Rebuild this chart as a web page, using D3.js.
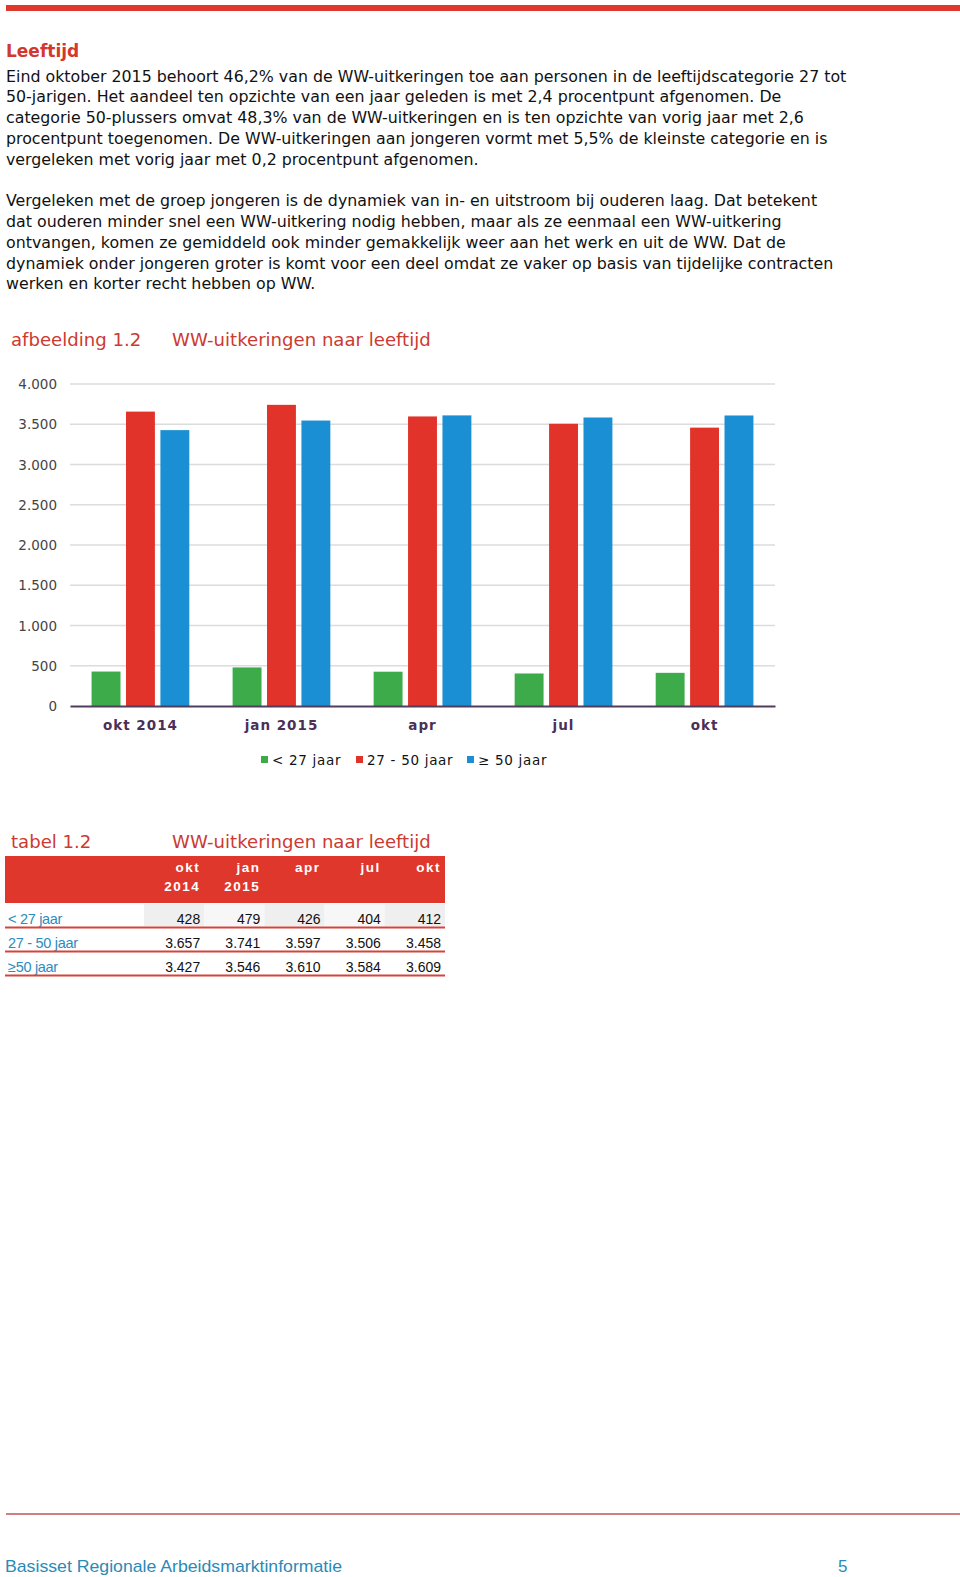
<!DOCTYPE html>
<html><head><meta charset="utf-8">
<script src="https://cdnjs.cloudflare.com/ajax/libs/d3/7.8.5/d3.min.js"></script>
<style>
html,body{margin:0;padding:0;background:#fff;}
svg{display:block;}
</style></head>
<body>
<script>
// ---- data ----
const categories = ["okt 2014", "jan 2015", "apr", "jul", "okt"];
const tableHeads = [["okt","2014"],["jan","2015"],["apr",""],["jul",""],["okt",""]];
const seriesNames = ["< 27 jaar", "27 - 50 jaar", "\u2265 50 jaar"];
const tableRowNames = ["< 27 jaar", "27 - 50 jaar", "\u226550 jaar"];
const under27 = [428, 479, 426, 404, 412];
const from27to50 = [3657, 3741, 3597, 3506, 3458];
const over50 = [3427, 3546, 3610, 3584, 3609];
const yTicks = [0, 500, 1000, 1500, 2000, 2500, 3000, 3500, 4000];
const seriesColors = ["#3dab4a", "#e2332a", "#1b8fd3"];

const para1 = [
 "Eind oktober 2015 behoort 46,2% van de WW-uitkeringen toe aan personen in de leeftijdscategorie 27 tot",
 "50-jarigen. Het aandeel ten opzichte van een jaar geleden is met 2,4 procentpunt afgenomen. De",
 "categorie 50-plussers omvat 48,3% van de WW-uitkeringen en is ten opzichte van vorig jaar met 2,6",
 "procentpunt toegenomen. De WW-uitkeringen aan jongeren vormt met 5,5% de kleinste categorie en is",
 "vergeleken met vorig jaar met 0,2 procentpunt afgenomen."
];
const para2 = [
 "Vergeleken met de groep jongeren is de dynamiek van in- en uitstroom bij ouderen laag. Dat betekent",
 "dat ouderen minder snel een WW-uitkering nodig hebben, maar als ze eenmaal een WW-uitkering",
 "ontvangen, komen ze gemiddeld ook minder gemakkelijk weer aan het werk en uit de WW. Dat de",
 "dynamiek onder jongeren groter is komt voor een deel omdat ze vaker op basis van tijdelijke contracten",
 "werken en korter recht hebben op WW."
];

const series = [under27, from27to50, over50];
const fmt = d3.formatLocale({decimal: ",", thousands: ".", grouping: [3], currency: ["", ""]}).format(",d");

const W = 960, H = 1577;
const svg = d3.select("body").append("svg").attr("width", W).attr("height", H);

// top red bar
svg.append("rect").attr("x", 6).attr("y", 5).attr("width", W - 6).attr("height", 6).attr("fill", "#e0372d");

// heading
svg.append("text").attr("x", 6).attr("y", 57).text("Leeftijd")
  .attr("font-family", "DejaVu Sans, Verdana, sans-serif").attr("font-weight", "bold")
  .attr("font-size", 17).attr("fill", "#d2382f");

// body text, fit font size to first line width
const bodyFont = "DejaVu Sans, Verdana, sans-serif";
const probe = svg.append("text").attr("font-family", bodyFont).attr("font-size", 100).text(para1[0]);
const pw = probe.node().getComputedTextLength();
probe.remove();
const bodySize = 100 * 841 / pw;

function paragraph(lines, y0) {
  lines.forEach((l, i) => {
    svg.append("text").attr("x", 6).attr("y", y0 + i * 20.85).text(l)
      .attr("font-family", bodyFont).attr("font-size", bodySize).attr("fill", "#111");
  });
}
paragraph(para1, 81.5);
paragraph(para2, 206);

// chart title
const titleFont = "DejaVu Sans, Verdana, sans-serif";
const titleSize = 18.1;
svg.append("text").attr("x", 11).attr("y", 346).text("afbeelding 1.2")
  .attr("font-family", titleFont).attr("font-size", titleSize).attr("fill", "#cc3a31");
svg.append("text").attr("x", 172).attr("y", 346).text("WW-uitkeringen naar leeftijd")
  .attr("font-family", titleFont).attr("font-size", titleSize).attr("fill", "#cc3a31");

// chart
const plotL = 70, plotR = 775, plotT = 384, plotB = 706;
const y = d3.scaleLinear().domain([0, 4000]).range([plotB, plotT]);
const x0 = d3.scaleBand().domain(categories).range([plotL, plotR]).paddingInner(0.307).paddingOuter(0.153);
const x1 = d3.scaleBand().domain(seriesNames).range([0, x0.bandwidth()]).paddingInner(0.16);

const g = svg.append("g");
// gridlines
g.selectAll("line.grid").data(yTicks.filter(t => t > 0)).enter().append("line")
  .attr("x1", plotL).attr("x2", plotR).attr("y1", d => y(d)).attr("y2", d => y(d))
  .attr("stroke", "#dcdcdc").attr("stroke-width", 1.5);

// y axis labels
const yAxis = d3.axisLeft(y).tickValues(yTicks).tickFormat(fmt).tickSize(0).tickPadding(0);
const ya = g.append("g").attr("transform", `translate(57,0)`).call(yAxis);
ya.select(".domain").remove();
ya.selectAll("text").attr("font-family", "DejaVu Sans, Verdana, sans-serif").attr("font-size", 13.5).attr("fill", "#444").attr("dy", "0.35em");

// bars
categories.forEach((c, ci) => {
  series.forEach((s, si) => {
    g.append("rect")
      .attr("x", x0(c) + x1(seriesNames[si]))
      .attr("y", y(s[ci]))
      .attr("width", x1.bandwidth())
      .attr("height", y(0) - y(s[ci]))
      .attr("fill", seriesColors[si]);
  });
});

// x axis
const xAxis = d3.axisBottom(x0).tickSize(0).tickPadding(0);
const xa = g.append("g").attr("transform", `translate(0,${plotB})`).call(xAxis);
xa.select(".domain").attr("stroke", "#4e3d5c").attr("stroke-width", 2);
xa.selectAll("text").attr("font-family", "DejaVu Sans, Verdana, sans-serif").attr("font-weight", "bold")
  .attr("font-size", 13.5).attr("fill", "#4b2f57").attr("letter-spacing", 1).attr("dy", 0).attr("y", 24);

// legend
const legendX = [261, 356, 467];
seriesNames.forEach((n, i) => {
  svg.append("rect").attr("x", legendX[i]).attr("y", 756).attr("width", 7).attr("height", 7).attr("fill", seriesColors[i]);
  svg.append("text").attr("x", legendX[i] + 11).attr("y", 765).text(n)
    .attr("font-family", "DejaVu Sans, Verdana, sans-serif").attr("font-size", 13.5)
    .attr("letter-spacing", 0.7).attr("fill", "#111");
});

// table
svg.append("text").attr("x", 11).attr("y", 848).text("tabel 1.2")
  .attr("font-family", titleFont).attr("font-size", titleSize).attr("fill", "#cc3a31");
svg.append("text").attr("x", 172).attr("y", 848).text("WW-uitkeringen naar leeftijd")
  .attr("font-family", titleFont).attr("font-size", titleSize).attr("fill", "#cc3a31");

const tblL = 5, tblR = 445, colStart = 144, colW = 60.2;
svg.append("rect").attr("x", tblL).attr("y", 856).attr("width", tblR - tblL).attr("height", 47).attr("fill", "#e0372d");
const tf = "Liberation Sans, Arial, sans-serif";
tableHeads.forEach((h, i) => {
  const xr = colStart + (i + 1) * colW - 4;
  h.forEach((t, j) => {
    if (!t) return;
    svg.append("text").attr("x", xr).attr("y", 872 + j * 19).attr("text-anchor", "end").text(t)
      .attr("font-family", tf).attr("font-weight", "bold").attr("font-size", 13.5)
      .attr("letter-spacing", 1.5).attr("fill", "#fff");
  });
});
const rowY = [919, 943, 967];
// light shading row 1 alternate columns
categories.forEach((c, i) => {
  svg.append("rect").attr("x", colStart + i * colW).attr("y", 904).attr("width", colW).attr("height", 22)
    .attr("fill", i % 2 === 0 ? "#efefef" : "#f7f7f7");
});
series.forEach((s, r) => {
  svg.append("text").attr("x", 8).attr("y", rowY[r] + 4.5).text(tableRowNames[r])
    .attr("font-family", tf).attr("font-size", 14.5).attr("fill", "#2b8cc0")
    .attr("letter-spacing", -0.3);
  s.forEach((v, i) => {
    svg.append("text").attr("x", colStart + (i + 1) * colW - 4).attr("y", rowY[r] + 4.5)
      .attr("text-anchor", "end").text(fmt(v))
      .attr("font-family", tf).attr("font-size", 14).attr("fill", "#111");
  });
  svg.append("line").attr("x1", tblL).attr("x2", tblR).attr("y1", rowY[r] + 8.5).attr("y2", rowY[r] + 8.5)
    .attr("stroke", "#d2453d").attr("stroke-width", 1.8);
});

// footer
svg.append("line").attr("x1", 6).attr("x2", W).attr("y1", 1514).attr("y2", 1514)
  .attr("stroke", "#cf7f7f").attr("stroke-width", 2);
svg.append("text").attr("x", 5).attr("y", 1572).text("Basisset Regionale Arbeidsmarktinformatie")
  .attr("font-family", "Liberation Sans Narrow, Arial Narrow, sans-serif").attr("font-stretch", "condensed")
  .attr("font-size", 17).attr("fill", "#2a8ab8").attr("textLength", 337).attr("lengthAdjust", "spacingAndGlyphs");
svg.append("text").attr("x", 838).attr("y", 1572).text("5")
  .attr("font-family", "Liberation Sans Narrow, Arial Narrow, sans-serif")
  .attr("font-size", 17).attr("fill", "#2a8ab8");
</script>
</body></html>
